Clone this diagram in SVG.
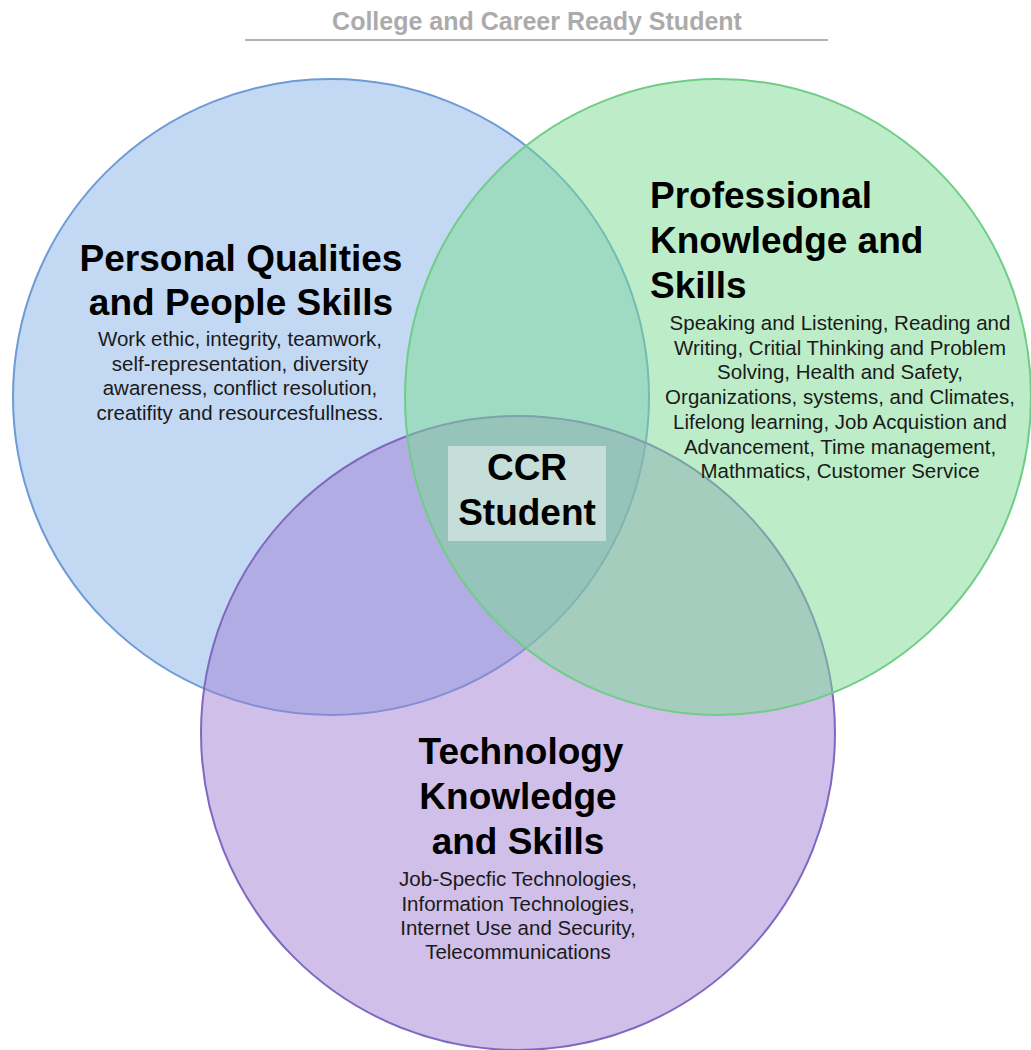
<svg xmlns="http://www.w3.org/2000/svg" width="1031" height="1050" viewBox="0 0 1031 1050">
  <style>
    text { font-family: "Liberation Sans", Arial, sans-serif; }
    .title { font-size: 25px; font-weight: bold; fill: #ababab; text-anchor: middle; }
    .head { font-size: 37px; font-weight: bold; fill: #000; }
    .body { font-size: 20.5px; fill: #1a1a1a; text-anchor: middle; }
    .mid { text-anchor: middle; }
    .set { stroke-width: 2; }
  </style>

  <rect width="1031" height="1050" fill="#ffffff"/>

  <!-- heading -->
  <g id="title">
    <text class="title" x="537" y="30">College and Career Ready Student</text>
    <line x1="245" y1="40" x2="828" y2="40" stroke="#b3b3b3" stroke-width="2"/>
  </g>

  <!-- the three sets (semi-transparent so overlaps mix) -->
  <g id="personal">
    <circle class="set" cx="331" cy="397" r="318" fill="rgb(133,177,231)" fill-opacity="0.5" stroke="#6c9bd6"/>
  </g>
  <g id="technology">
    <circle class="set" cx="518" cy="733" r="317" fill="rgb(159,127,211)" fill-opacity="0.5" stroke="#7f68c0"/>
  </g>
  <g id="professional">
    <ellipse class="set" cx="718" cy="397" rx="313" ry="318" fill="rgb(123,219,145)" fill-opacity="0.5" stroke="#6fcd86"/>
  </g>

  <g id="personal-label">
    <text class="head mid" x="241" y="271">Personal Qualities</text>
    <text class="head mid" x="241" y="315">and People Skills</text>
    <text class="body" x="240" y="346">Work ethic, integrity, teamwork,</text>
    <text class="body" x="240" y="371">self-representation, diversity</text>
    <text class="body" x="240" y="395">awareness, conflict resolution,</text>
    <text class="body" x="240" y="420">creatifity and resourcesfullness.</text>
  </g>

  <g id="professional-label">
    <text class="head" x="650" y="208">Professional</text>
    <text class="head" x="650" y="253">Knowledge and</text>
    <text class="head" x="650" y="298">Skills</text>
    <text class="body" x="840" y="330">Speaking and Listening, Reading and</text>
    <text class="body" x="840" y="355">Writing, Critial Thinking and Problem</text>
    <text class="body" x="840" y="379">Solving, Health and Safety,</text>
    <text class="body" x="840" y="404">Organizations, systems, and Climates,</text>
    <text class="body" x="840" y="429">Lifelong learning, Job Acquistion and</text>
    <text class="body" x="840" y="454">Advancement, Time management,</text>
    <text class="body" x="840" y="478">Mathmatics, Customer Service</text>
  </g>

  <g id="technology-label">
    <text class="head mid" x="521" y="764">Technology</text>
    <text class="head mid" x="518" y="809">Knowledge</text>
    <text class="head mid" x="518" y="854">and Skills</text>
    <text class="body" x="518" y="886">Job-Specfic Technologies,</text>
    <text class="body" x="518" y="911">Information Technologies,</text>
    <text class="body" x="518" y="935">Internet Use and Security,</text>
    <text class="body" x="518" y="959">Telecommunications</text>
  </g>

  <!-- centre badge -->
  <g id="ccr">
    <rect x="448" y="446" width="158" height="95" fill="#ffffff" fill-opacity="0.45"/>
    <text class="head mid" x="527" y="480">CCR</text>
    <text class="head mid" x="527" y="525">Student</text>
  </g>

  <g id="connectors"/>
</svg>
